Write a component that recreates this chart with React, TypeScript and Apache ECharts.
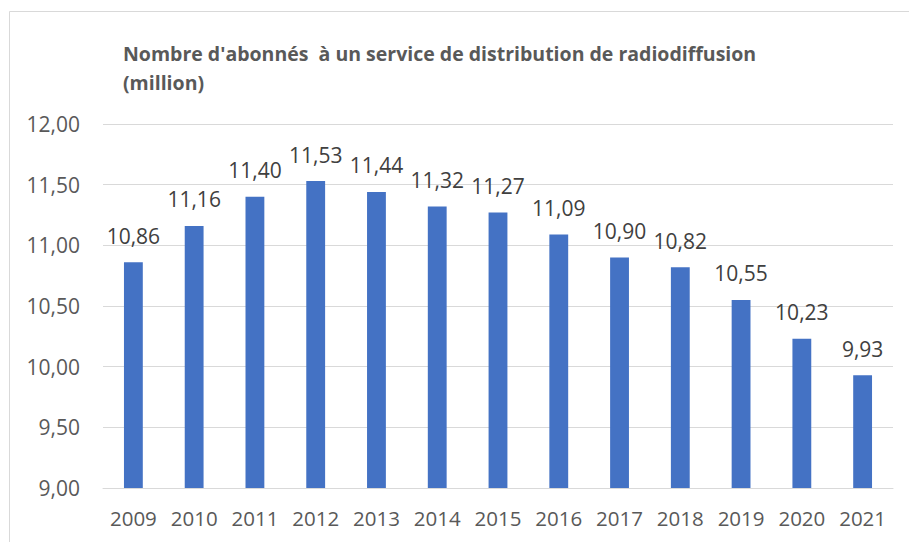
import React, { useEffect, useRef } from "react";
import * as echarts from "echarts";

const years = ["2009", "2010", "2011", "2012", "2013", "2014", "2015", "2016", "2017", "2018", "2019", "2020", "2021"];
const subscribers = [10.86, 11.16, 11.4, 11.53, 11.44, 11.32, 11.27, 11.09, 10.9, 10.82, 10.55, 10.23, 9.93];
const titleLines = ["Nombre d'abonnés  à un service de distribution de radiodiffusion", "(million)"];

const fmt = (v: number) => v.toFixed(2).replace(".", ",");
const FONT = "Open Sans";

export default function App() {
  const ref = useRef<HTMLDivElement>(null);
  useEffect(() => {
    if (!ref.current) return;
    const chart = echarts.init(ref.current, undefined, { renderer: "svg" });
    chart.setOption({
      animation: false,
      textStyle: { fontFamily: FONT },
      title: {
        text: titleLines.join("\n"),
        left: 118,
        top: 34,
        textStyle: { fontFamily: FONT, fontWeight: "bold", fontSize: 19.5, color: "#595959", lineHeight: 29 },
      },
      graphic: [
        {
          type: "rect",
          shape: { x: 9.5, y: 11.5, width: 1000, height: 1000 },
          style: { fill: "none", stroke: "#d9d9d9", lineWidth: 1 },
          silent: true,
        },
      ],
      grid: { left: 103, right: 16, top: 124, bottom: 54, containLabel: false },
      xAxis: {
        type: "category",
        data: years,
        axisLine: { show: true, lineStyle: { color: "#d9d9d9", width: 1 } },
        axisTick: { show: false },
        axisLabel: { color: "#595959", fontSize: 20.5, margin: 19, interval: 0, hideOverlap: false, fontFamily: FONT },
      },
      yAxis: {
        type: "value",
        min: 9,
        max: 12,
        interval: 0.5,
        axisLine: { show: false },
        axisTick: { show: false },
        splitLine: { lineStyle: { color: "#d9d9d9", width: 1 } },
        axisLabel: { color: "#595959", fontSize: 21, margin: 23, formatter: (v: number) => fmt(v), fontFamily: FONT },
      },
      series: [
        {
          type: "bar",
          data: subscribers,
          barWidth: "31%",
          itemStyle: { color: "#4472C4" },
          label: {
            show: true,
            position: "top",
            distance: 16,
            color: "#404040",
            fontSize: 21,
            fontFamily: FONT,
            formatter: (p: any) => fmt(p.value),
          },
        },
      ],
    });
    return () => chart.dispose();
  }, []);
  return <div ref={ref} style={{ position: "fixed", left: 0, top: 0, width: 909, height: 542, background: "#fff" }} />;
}
